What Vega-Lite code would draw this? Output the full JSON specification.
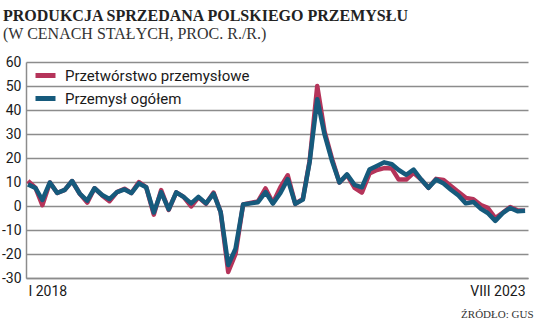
{
  "$schema": "https://vega.github.io/schema/vega-lite/v6.json",
  "width": 502,
  "height": 216,
  "autosize": {"type": "none"},
  "padding": {"left": 26, "top": 62, "right": 8, "bottom": 44},
  "background": "white",
  "title": {
    "text": "PRODUKCJA SPRZEDANA POLSKIEGO PRZEMYSŁU",
    "subtitle": "(W CENACH STAŁYCH, PROC. R./R.)",
    "anchor": "start",
    "frame": "group",
    "dx": -23,
    "offset": 13,
    "font": "Liberation Serif",
    "fontSize": 16,
    "fontWeight": "bold",
    "color": "#222222",
    "subtitleFont": "Liberation Serif",
    "subtitleFontSize": 16,
    "subtitleColor": "#333333",
    "subtitlePadding": 2
  },
  "data": {
    "values": [
      {"d": "2018-01-01", "Przetwórstwo przemysłowe": 10.5, "Przemysł ogółem": 9.0},
      {"d": "2018-02-01", "Przetwórstwo przemysłowe": 7.5, "Przemysł ogółem": 7.5},
      {"d": "2018-03-01", "Przetwórstwo przemysłowe": 0.3, "Przemysł ogółem": 2.5},
      {"d": "2018-04-01", "Przetwórstwo przemysłowe": 9.8, "Przemysł ogółem": 9.8},
      {"d": "2018-05-01", "Przetwórstwo przemysłowe": 5.4, "Przemysł ogółem": 5.4},
      {"d": "2018-06-01", "Przetwórstwo przemysłowe": 6.7, "Przemysł ogółem": 6.7},
      {"d": "2018-07-01", "Przetwórstwo przemysłowe": 10.4, "Przemysł ogółem": 10.4},
      {"d": "2018-08-01", "Przetwórstwo przemysłowe": 5.2, "Przemysł ogółem": 5.2},
      {"d": "2018-09-01", "Przetwórstwo przemysłowe": 1.4, "Przemysł ogółem": 2.2},
      {"d": "2018-10-01", "Przetwórstwo przemysłowe": 7.4, "Przemysł ogółem": 7.4},
      {"d": "2018-11-01", "Przetwórstwo przemysłowe": 4.4, "Przemysł ogółem": 4.6},
      {"d": "2018-12-01", "Przetwórstwo przemysłowe": 2.0, "Przemysł ogółem": 2.9},
      {"d": "2019-01-01", "Przetwórstwo przemysłowe": 5.8, "Przemysł ogółem": 5.8},
      {"d": "2019-02-01", "Przetwórstwo przemysłowe": 7.2, "Przemysł ogółem": 6.9},
      {"d": "2019-03-01", "Przetwórstwo przemysłowe": 5.4, "Przemysł ogółem": 5.4},
      {"d": "2019-04-01", "Przetwórstwo przemysłowe": 10.0, "Przemysł ogółem": 9.4},
      {"d": "2019-05-01", "Przetwórstwo przemysłowe": 7.8, "Przemysł ogółem": 7.8},
      {"d": "2019-06-01", "Przetwórstwo przemysłowe": -3.6, "Przemysł ogółem": -2.7},
      {"d": "2019-07-01", "Przetwórstwo przemysłowe": 6.6, "Przemysł ogółem": 5.8},
      {"d": "2019-08-01", "Przetwórstwo przemysłowe": -1.6, "Przemysł ogółem": -1.4},
      {"d": "2019-09-01", "Przetwórstwo przemysłowe": 5.7, "Przemysł ogółem": 5.7},
      {"d": "2019-10-01", "Przetwórstwo przemysłowe": 3.8, "Przemysł ogółem": 3.8},
      {"d": "2019-11-01", "Przetwórstwo przemysłowe": -0.2, "Przemysł ogółem": 1.1},
      {"d": "2019-12-01", "Przetwórstwo przemysłowe": 3.6, "Przemysł ogółem": 3.8},
      {"d": "2020-01-01", "Przetwórstwo przemysłowe": 0.9, "Przemysł ogółem": 1.1},
      {"d": "2020-02-01", "Przetwórstwo przemysłowe": 5.6, "Przemysł ogółem": 5.2},
      {"d": "2020-03-01", "Przetwórstwo przemysłowe": -2.5, "Przemysł ogółem": -2.5},
      {"d": "2020-04-01", "Przetwórstwo przemysłowe": -27.5, "Przemysł ogółem": -24.6},
      {"d": "2020-05-01", "Przetwórstwo przemysłowe": -20.0, "Przemysł ogółem": -17.8},
      {"d": "2020-06-01", "Przetwórstwo przemysłowe": 0.6, "Przemysł ogółem": 0.6},
      {"d": "2020-07-01", "Przetwórstwo przemysłowe": 1.3, "Przemysł ogółem": 1.1},
      {"d": "2020-08-01", "Przetwórstwo przemysłowe": 1.9, "Przemysł ogółem": 1.6},
      {"d": "2020-09-01", "Przetwórstwo przemysłowe": 7.3, "Przemysł ogółem": 5.8},
      {"d": "2020-10-01", "Przetwórstwo przemysłowe": 1.3, "Przemysł ogółem": 1.0},
      {"d": "2020-11-01", "Przetwórstwo przemysłowe": 7.8, "Przemysł ogółem": 5.4},
      {"d": "2020-12-01", "Przetwórstwo przemysłowe": 12.8, "Przemysł ogółem": 11.2},
      {"d": "2021-01-01", "Przetwórstwo przemysłowe": 0.9, "Przemysł ogółem": 0.9},
      {"d": "2021-02-01", "Przetwórstwo przemysłowe": 3.0, "Przemysł ogółem": 2.7},
      {"d": "2021-03-01", "Przetwórstwo przemysłowe": 18.9, "Przemysł ogółem": 18.5},
      {"d": "2021-04-01", "Przetwórstwo przemysłowe": 50.0, "Przemysł ogółem": 44.5},
      {"d": "2021-05-01", "Przetwórstwo przemysłowe": 31.0, "Przemysł ogółem": 29.8},
      {"d": "2021-06-01", "Przetwórstwo przemysłowe": 19.5, "Przemysł ogółem": 18.6},
      {"d": "2021-07-01", "Przetwórstwo przemysłowe": 9.8, "Przemysł ogółem": 9.8},
      {"d": "2021-08-01", "Przetwórstwo przemysłowe": 13.0, "Przemysł ogółem": 13.2},
      {"d": "2021-09-01", "Przetwórstwo przemysłowe": 7.6, "Przemysł ogółem": 8.8},
      {"d": "2021-10-01", "Przetwórstwo przemysłowe": 5.6, "Przemysł ogółem": 7.8},
      {"d": "2021-11-01", "Przetwórstwo przemysłowe": 13.5, "Przemysł ogółem": 15.2},
      {"d": "2021-12-01", "Przetwórstwo przemysłowe": 15.0, "Przemysł ogółem": 16.7},
      {"d": "2022-01-01", "Przetwórstwo przemysłowe": 15.8, "Przemysł ogółem": 18.2},
      {"d": "2022-02-01", "Przetwórstwo przemysłowe": 15.6, "Przemysł ogółem": 17.4},
      {"d": "2022-03-01", "Przetwórstwo przemysłowe": 11.0, "Przemysł ogółem": 15.0},
      {"d": "2022-04-01", "Przetwórstwo przemysłowe": 11.0, "Przemysł ogółem": 13.0},
      {"d": "2022-05-01", "Przetwórstwo przemysłowe": 13.8, "Przemysł ogółem": 15.2},
      {"d": "2022-06-01", "Przetwórstwo przemysłowe": 11.0, "Przemysł ogółem": 11.0},
      {"d": "2022-07-01", "Przetwórstwo przemysłowe": 7.6, "Przemysł ogółem": 7.6},
      {"d": "2022-08-01", "Przetwórstwo przemysłowe": 11.3, "Przemysł ogółem": 11.0},
      {"d": "2022-09-01", "Przetwórstwo przemysłowe": 10.8, "Przemysł ogółem": 9.4},
      {"d": "2022-10-01", "Przetwórstwo przemysłowe": 8.3, "Przemysł ogółem": 6.8},
      {"d": "2022-11-01", "Przetwórstwo przemysłowe": 5.8, "Przemysł ogółem": 4.4},
      {"d": "2022-12-01", "Przetwórstwo przemysłowe": 3.4, "Przemysł ogółem": 1.1},
      {"d": "2023-01-01", "Przetwórstwo przemysłowe": 2.8, "Przemysł ogółem": 1.7},
      {"d": "2023-02-01", "Przetwórstwo przemysłowe": 0.4, "Przemysł ogółem": -1.2},
      {"d": "2023-03-01", "Przetwórstwo przemysłowe": -0.8, "Przemysł ogółem": -2.9},
      {"d": "2023-04-01", "Przetwórstwo przemysłowe": -5.0, "Przemysł ogółem": -6.2},
      {"d": "2023-05-01", "Przetwórstwo przemysłowe": -2.8, "Przemysł ogółem": -3.0},
      {"d": "2023-06-01", "Przetwórstwo przemysłowe": -0.4, "Przemysł ogółem": -0.8},
      {"d": "2023-07-01", "Przetwórstwo przemysłowe": -1.8, "Przemysł ogółem": -2.2},
      {"d": "2023-08-01", "Przetwórstwo przemysłowe": -2.0, "Przemysł ogółem": -2.0}
    ]
  },
  "transform": [
    {"fold": ["Przetwórstwo przemysłowe", "Przemysł ogółem"], "as": ["series", "value"]}
  ],
  "encoding": {
    "x": {
      "field": "d",
      "type": "temporal",
      "scale": {
        "domain": [
          {"year": 2017, "month": 12, "date": 24, "utc": true},
          {"year": 2023, "month": 8, "date": 13, "utc": true}
        ]
      },
      "axis": {
        "values": [
          {"year": 2018, "month": 1, "date": 1, "utc": true},
          {"year": 2023, "month": 8, "date": 1, "utc": true}
        ],
        "labelExpr": "utcyear(datum.value) == 2018 ? 'I 2018' : 'VIII 2023'",
        "labelFlush": 6,
        "labelFont": "Roboto",
        "labelFontSize": 14,
        "labelColor": "#1a1a1a",
        "labelPadding": 6,
        "ticks": false,
        "grid": false,
        "domainColor": "#8c8c8c",
        "domainWidth": 1.5,
        "title": "ŹRÓDŁO: GUS",
        "titleFont": "Liberation Serif",
        "titleFontSize": 11,
        "titleFontWeight": "normal",
        "titleColor": "#333333",
        "titleAnchor": "end",
        "titleAlign": "right",
        "titleX": 507,
        "titlePadding": 10
      }
    },
    "y": {
      "field": "value",
      "type": "quantitative",
      "scale": {"domain": [-30, 60], "nice": false, "zero": false},
      "axis": {
        "values": [-30, -20, -10, 0, 10, 20, 30, 40, 50, 60],
        "labelExpr": "datum.value < 0 ? '-' + abs(datum.value) : '' + datum.value",
        "title": null,
        "labelFont": "Roboto",
        "labelFontSize": 14,
        "labelColor": "#1a1a1a",
        "labelPadding": 5,
        "ticks": false,
        "grid": true,
        "gridColor": "#8c8c8c",
        "gridWidth": 1.5,
        "gridOpacity": 1,
        "domainColor": "#8c8c8c",
        "domainWidth": 1.5
      }
    },
    "color": {
      "field": "series",
      "type": "nominal",
      "scale": {
        "domain": ["Przetwórstwo przemysłowe", "Przemysł ogółem"],
        "range": ["#b5345a", "#165a7c"]
      },
      "legend": {
        "title": null,
        "orient": "none",
        "legendX": 7,
        "legendY": 1,
        "padding": 0,
        "symbolType": "stroke",
        "symbolStrokeWidth": 5,
        "symbolSize": 400,
        "labelFont": "Roboto",
        "labelFontSize": 15,
        "labelColor": "#1a1a1a",
        "labelLimit": 0,
        "rowPadding": 0,
        "labelOffset": 7
      }
    }
  },
  "layer": [
    {
      "transform": [{"filter": "datum.series == 'Przetwórstwo przemysłowe'"}],
      "mark": {"type": "line", "strokeWidth": 4.5, "strokeJoin": "round"}
    },
    {
      "transform": [{"filter": "datum.series == 'Przemysł ogółem'"}],
      "mark": {"type": "line", "strokeWidth": 4.5, "strokeJoin": "round"}
    }
  ],
  "config": {"view": {"stroke": null}}
}
